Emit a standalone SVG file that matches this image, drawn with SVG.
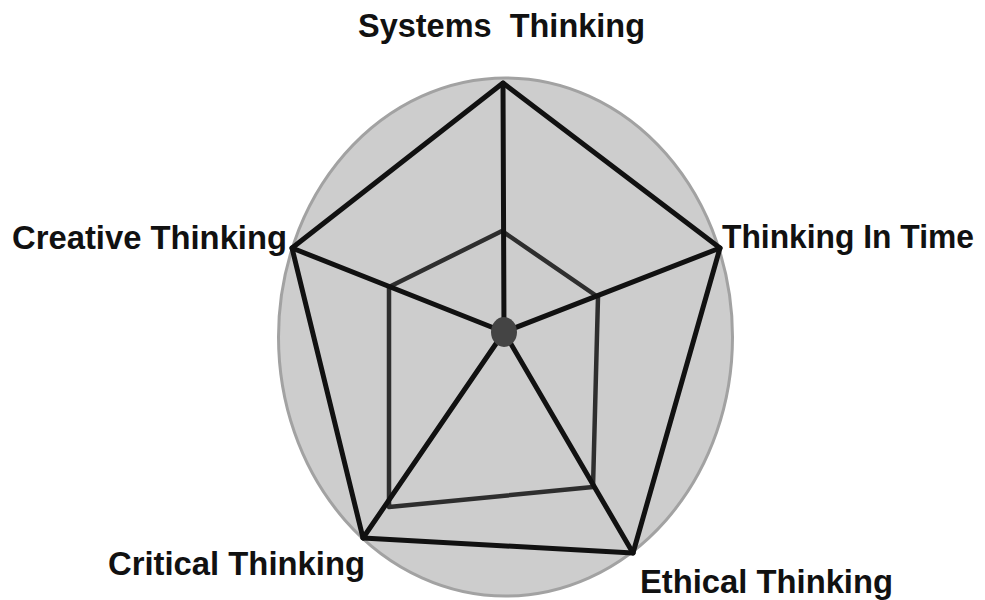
<svg xmlns="http://www.w3.org/2000/svg" width="985" height="600" viewBox="0 0 985 600">
<style>
.lbl{font-family:"Liberation Sans",Arial,sans-serif;font-weight:bold;font-size:34px;fill:#111}
.outer{fill:none;stroke:#111;stroke-width:5;stroke-linejoin:round;stroke-linecap:round}
.inner{fill:none;stroke:#2e2e2e;stroke-width:4.5;stroke-linejoin:round}
.spoke{stroke:#111;stroke-width:5;stroke-linecap:round}
</style>
<rect width="985" height="600" fill="#ffffff"/>
<g id="background">
<ellipse cx="505.5" cy="337" rx="227" ry="259" fill="#cdcdcd" stroke="#a2a2a2" stroke-width="3"/>
</g>
<g id="connectors">
<polygon class="inner" points="502,231 598,297 593,487 389,507 389,287"/>
<polygon class="outer" points="503,83 720,248 633,553 363,538 292,248"/>
<line class="spoke" x1="504" y1="332" x2="503" y2="83"/>
<line class="spoke" x1="504" y1="332" x2="720" y2="248"/>
<line class="spoke" x1="504" y1="332" x2="633" y2="553"/>
<line class="spoke" x1="504" y1="332" x2="363" y2="538"/>
<line class="spoke" x1="504" y1="332" x2="292" y2="248"/>
</g>
<g id="center">
<ellipse cx="504" cy="332" rx="13" ry="15" fill="#444"/>
</g>
<g id="systems">
<text class="lbl" x="358" y="37" textLength="287" lengthAdjust="spacingAndGlyphs" xml:space="preserve">Systems  Thinking</text>
</g>
<g id="time">
<text class="lbl" x="722" y="248" textLength="252" lengthAdjust="spacingAndGlyphs">Thinking In Time</text>
</g>
<g id="ethical">
<text class="lbl" x="640" y="593" textLength="253" lengthAdjust="spacingAndGlyphs">Ethical Thinking</text>
</g>
<g id="critical">
<text class="lbl" x="108" y="575" textLength="257" lengthAdjust="spacingAndGlyphs">Critical Thinking</text>
</g>
<g id="creative">
<text class="lbl" x="12" y="249" textLength="275" lengthAdjust="spacingAndGlyphs">Creative Thinking</text>
</g>
</svg>
